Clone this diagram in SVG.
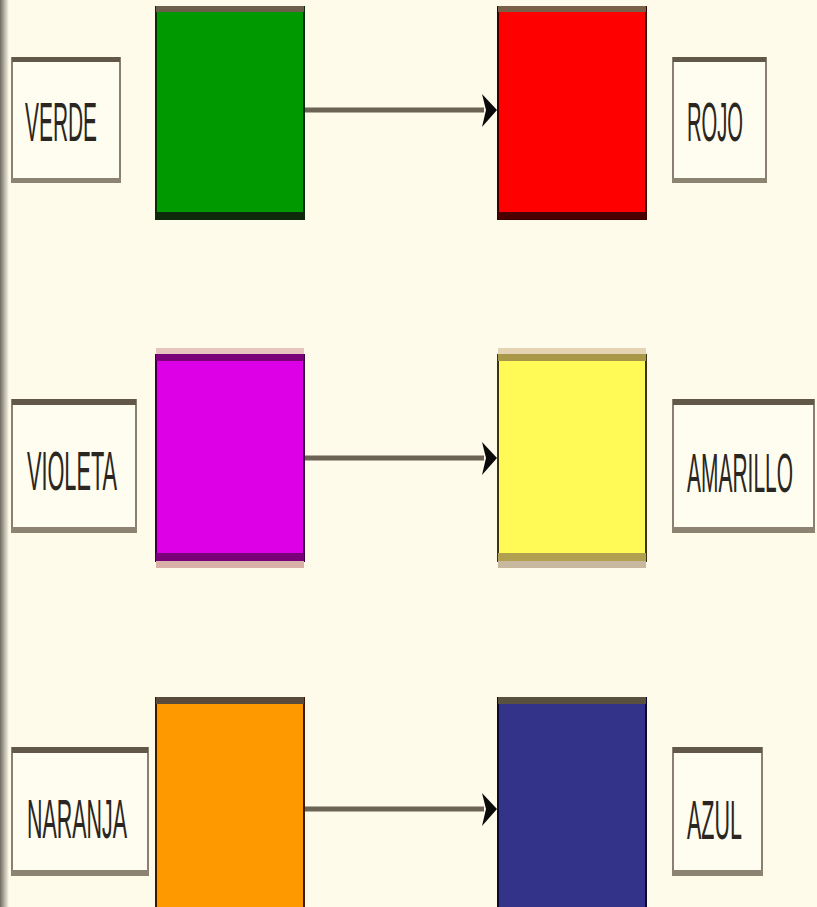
<svg xmlns="http://www.w3.org/2000/svg" width="817" height="907" viewBox="0 0 817 907">
<defs>
<style>
.lbl{fill:#FFFDF0;stroke:#8a8072;stroke-width:2}
.ltop{fill:#62584a}
.lbot{fill:#8c8373}
.txt{font-family:"Liberation Sans",Arial,sans-serif;font-size:56px;fill:#2a2622}
.conn{stroke:#6b6355;stroke-width:5;fill:none}
.head{fill:#0a0a0a}
</style>
<linearGradient id="edge" x1="0" y1="0" x2="1" y2="0">
<stop offset="0" stop-color="#6e6a60"/>
<stop offset="0.5" stop-color="#b8b4a6"/>
<stop offset="1" stop-color="#fffbea"/>
</linearGradient>
</defs>
<rect x="0" y="0" width="817" height="907" fill="#FFFBEA"/>
<rect x="0" y="0" width="9" height="907" fill="url(#edge)"/>

<g id="connectors">
<line class="conn" x1="305" y1="110" x2="484" y2="110"/>
<polygon class="head" points="482,94 497,110 482,127 486,110"/>
<line class="conn" x1="305" y1="458" x2="484" y2="458"/>
<polygon class="head" points="482,442 497,458 482,475 486,458"/>
<line class="conn" x1="305" y1="809" x2="484" y2="809"/>
<polygon class="head" points="482,793 497,809 482,826 486,809"/>
</g>

<g id="verde-label">
<rect class="lbl" x="12" y="58" width="108" height="124"/>
<rect class="ltop" x="12" y="57" width="108" height="5"/>
<rect class="lbot" x="11" y="178" width="110" height="5"/>
<text class="txt" x="25" y="141" textLength="72" lengthAdjust="spacingAndGlyphs">VERDE</text>
</g>
<g id="green">
<rect x="156" y="7" width="148" height="212" fill="#009900" stroke="#0a2a0a" stroke-width="2"/>
<rect x="156" y="6" width="148" height="6" fill="#6b5e4a"/>
<rect x="156" y="212" width="148" height="7" fill="#0f2a0a"/>
</g>
<g id="red">
<rect x="498" y="7" width="148" height="212" fill="#FF0000" stroke="#3a0000" stroke-width="2"/>
<rect x="498" y="6" width="148" height="6" fill="#7a6048"/>
<rect x="498" y="212" width="148" height="7" fill="#4a0000"/>
</g>
<g id="rojo-label">
<rect class="lbl" x="673" y="58" width="93" height="124"/>
<rect class="ltop" x="673" y="57" width="93" height="5"/>
<rect class="lbot" x="672" y="178" width="95" height="5"/>
<text class="txt" x="687" y="141" textLength="56" lengthAdjust="spacingAndGlyphs">ROJO</text>
</g>

<g id="violeta-label">
<rect class="lbl" x="12" y="400" width="124" height="132"/>
<rect class="ltop" x="12" y="399" width="124" height="6"/>
<rect class="lbot" x="11" y="527" width="126" height="6"/>
<text class="txt" x="27" y="490" textLength="90" lengthAdjust="spacingAndGlyphs">VIOLETA</text>
</g>
<g id="magenta">
<rect x="156" y="355" width="148" height="206" fill="#DD00E6" stroke="#3a0040" stroke-width="2"/>
<rect x="156" y="348" width="148" height="6" fill="#e8c4c0"/>
<rect x="156" y="354" width="148" height="7" fill="#7a007a"/>
<rect x="156" y="553" width="148" height="8" fill="#7a007a"/>
<rect x="156" y="561" width="148" height="7" fill="#d8b0a8"/>
</g>
<g id="yellow">
<rect x="498" y="355" width="148" height="206" fill="#FFFA55" stroke="#3a3410" stroke-width="2"/>
<rect x="498" y="348" width="148" height="6" fill="#e4d4b4"/>
<rect x="498" y="354" width="148" height="7" fill="#a89848"/>
<rect x="498" y="553" width="148" height="8" fill="#b0a050"/>
<rect x="498" y="561" width="148" height="7" fill="#c8b8a0"/>
</g>
<g id="amarillo-label">
<rect class="lbl" x="673" y="400" width="141" height="132"/>
<rect class="ltop" x="673" y="399" width="141" height="6"/>
<rect class="lbot" x="672" y="527" width="143" height="6"/>
<text class="txt" x="687" y="492" textLength="106" lengthAdjust="spacingAndGlyphs">AMARILLO</text>
</g>

<g id="naranja-label">
<rect class="lbl" x="12" y="748" width="136" height="127"/>
<rect class="ltop" x="12" y="747" width="136" height="6"/>
<rect class="lbot" x="11" y="870" width="138" height="6"/>
<text class="txt" x="27" y="838" textLength="100" lengthAdjust="spacingAndGlyphs">NARANJA</text>
</g>
<g id="orange">
<rect x="156" y="698" width="148" height="215" fill="#FF9900" stroke="#3a1a00" stroke-width="2"/>
<rect x="156" y="697" width="148" height="7" fill="#5a4a3c"/>
</g>
<g id="blue">
<rect x="498" y="698" width="148" height="215" fill="#34338A" stroke="#0a0a2a" stroke-width="2"/>
<rect x="498" y="697" width="148" height="7" fill="#5a5040"/>
</g>
<g id="azul-label">
<rect class="lbl" x="673" y="748" width="89" height="127"/>
<rect class="ltop" x="673" y="747" width="89" height="6"/>
<rect class="lbot" x="672" y="870" width="91" height="6"/>
<text class="txt" x="687" y="839" textLength="55" lengthAdjust="spacingAndGlyphs">AZUL</text>
</g>
</svg>
